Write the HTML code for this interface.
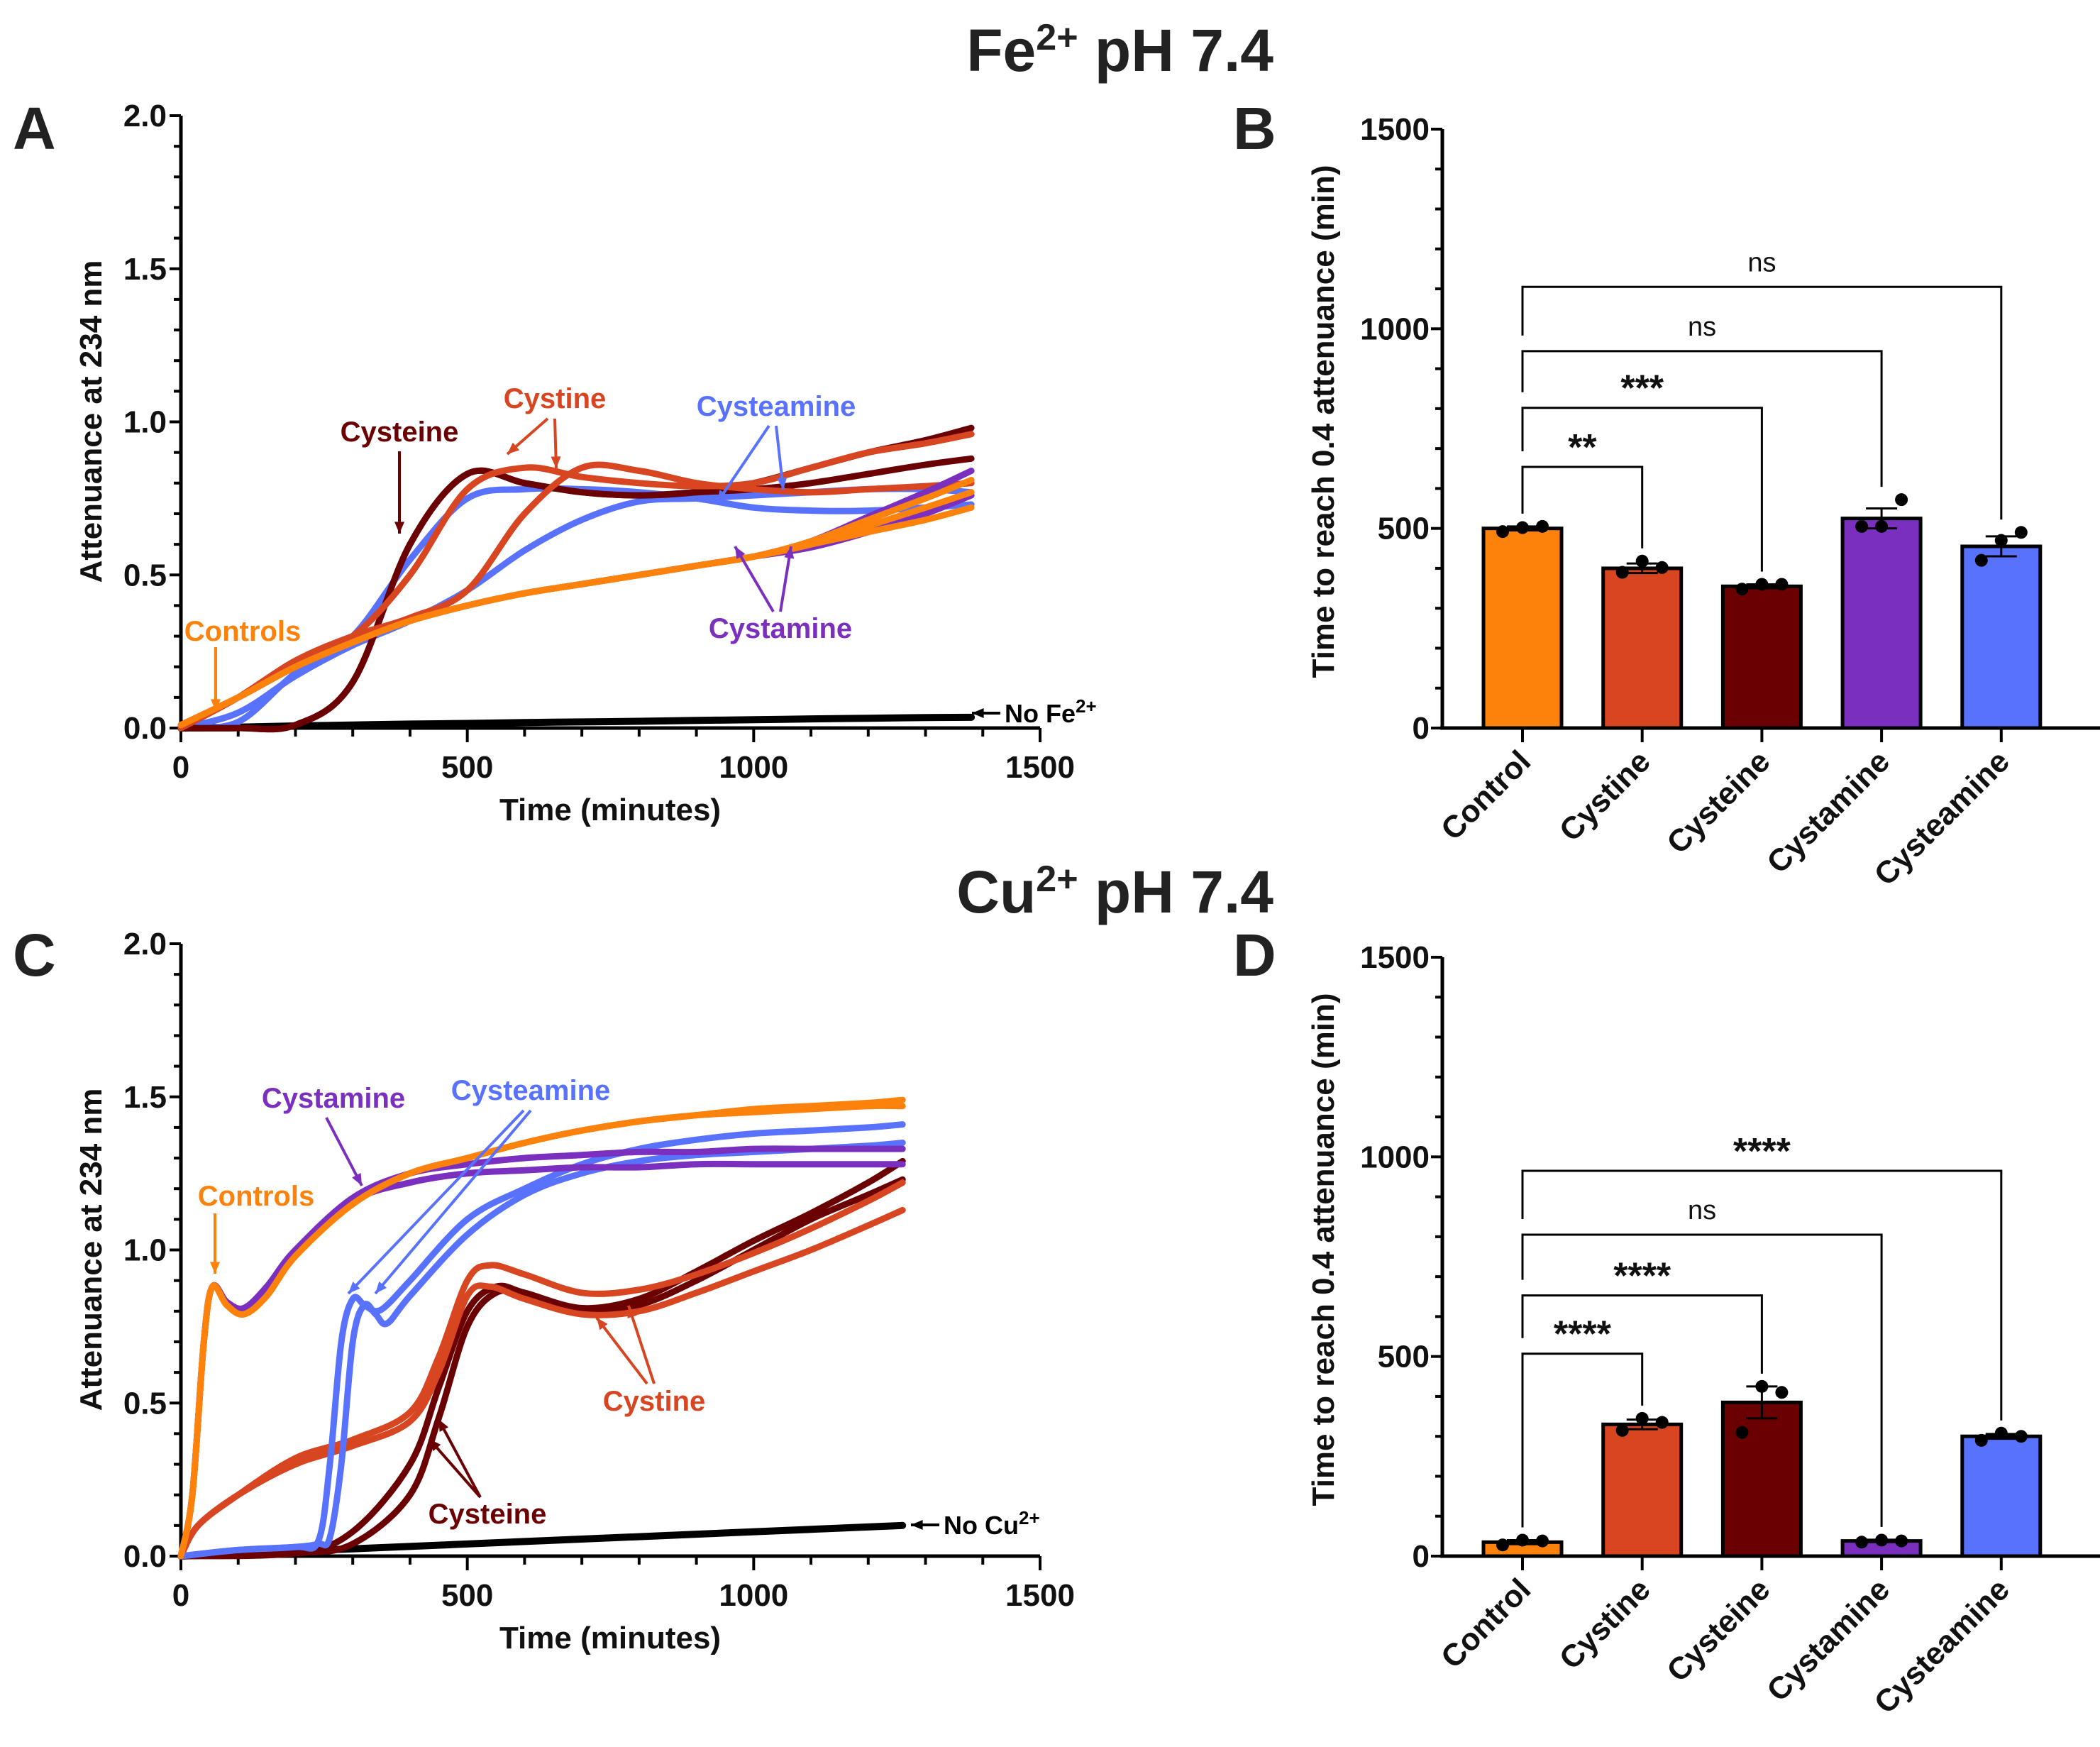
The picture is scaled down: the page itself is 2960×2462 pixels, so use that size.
<!DOCTYPE html>
<html><head><meta charset="utf-8">
<style>
html,body{margin:0;padding:0;background:#fff;}
svg{display:block;}
text{font-family:"Liberation Sans Narrow","Liberation Sans",sans-serif;font-weight:bold;}
.w{font-family:"Liberation Sans",sans-serif;font-weight:bold;}
</style></head>
<body>
<svg id="fig" width="2960" height="2462" viewBox="0 0 2960 2462" xmlns="http://www.w3.org/2000/svg">
<g id="gA"></g>
<g id="gB"></g>
<g id="gC"></g>
<g id="gD"></g>
</svg>
<script>
// ---------- Panel A data (Fe2+) ----------
const tA = [0,100,200,300,400,500,600,700,800,900,1000,1100,1200,1300,1380];
const aControl1 = [0.01,0.1,0.2,0.28,0.35,0.4,0.44,0.47,0.5,0.53,0.56,0.6,0.64,0.68,0.72];
const aControl2 = [0.01,0.1,0.2,0.28,0.35,0.4,0.44,0.47,0.5,0.53,0.56,0.61,0.68,0.75,0.81];
const aControl3 = [0.01,0.1,0.2,0.28,0.35,0.4,0.44,0.47,0.5,0.53,0.56,0.6,0.66,0.72,0.77];
const aCystine1 = [0,0.1,0.22,0.3,0.5,0.78,0.85,0.82,0.8,0.79,0.8,0.85,0.9,0.93,0.96];
const aCystine2 = [0,0.1,0.22,0.3,0.36,0.45,0.7,0.85,0.84,0.8,0.78,0.77,0.78,0.79,0.8];
const aCysteine1 = [0,0,0.01,0.15,0.6,0.83,0.8,0.77,0.76,0.77,0.8,0.85,0.9,0.94,0.98];
const aCysteine2 = [0,0,0.01,0.15,0.6,0.83,0.8,0.77,0.76,0.77,0.78,0.8,0.83,0.86,0.88];
const aCysteamine1 = [0,0.02,0.18,0.3,0.55,0.75,0.78,0.78,0.77,0.75,0.72,0.71,0.71,0.72,0.73];
const aCysteamine2 = [0,0.05,0.17,0.27,0.35,0.45,0.58,0.68,0.74,0.75,0.76,0.77,0.78,0.78,0.77];
const aCystamine1 = [0.01,0.1,0.2,0.28,0.35,0.4,0.44,0.47,0.5,0.53,0.56,0.61,0.69,0.77,0.84];
const aCystamine2 = [0.01,0.1,0.2,0.28,0.35,0.4,0.44,0.47,0.5,0.53,0.56,0.59,0.64,0.7,0.76];
const aNoMetal = [0,0.003,0.007,0.01,0.013,0.015,0.018,0.02,0.022,0.025,0.027,0.03,0.032,0.034,0.035];

// ---------- Panel C data (Cu2+) ----------
const tCctl = [0,20,40,55,80,110,150,200,300,400,500,600,700,800,900,1000,1100,1200,1260];
const cControl1 = [0,0.2,0.7,0.88,0.82,0.79,0.85,0.98,1.15,1.25,1.3,1.35,1.39,1.42,1.44,1.46,1.47,1.48,1.49];
const cControl2 = [0,0.2,0.7,0.88,0.82,0.79,0.85,0.98,1.15,1.25,1.3,1.35,1.39,1.42,1.44,1.45,1.46,1.47,1.47];
const cCystamine1 = [0,0.2,0.7,0.88,0.83,0.81,0.88,1.0,1.17,1.25,1.28,1.3,1.31,1.32,1.32,1.33,1.33,1.33,1.33];
const cCystamine2 = [0,0.2,0.7,0.88,0.83,0.81,0.88,1.0,1.16,1.22,1.25,1.26,1.27,1.27,1.28,1.28,1.28,1.28,1.28];
const tCam = [0,100,200,240,260,280,300,320,340,360,400,500,600,700,800,900,1000,1100,1200,1260];
const cCysteamine1 = [0,0.02,0.03,0.05,0.3,0.7,0.84,0.82,0.8,0.82,0.9,1.1,1.2,1.28,1.33,1.36,1.38,1.39,1.4,1.41];
const cCysteamine2 = [0,0.02,0.03,0.04,0.06,0.3,0.7,0.82,0.79,0.76,0.85,1.05,1.18,1.25,1.29,1.31,1.32,1.33,1.34,1.35];
const tCine = [0,30,100,200,300,400,450,500,540,600,700,800,900,1000,1100,1200,1260];
const cCystine1 = [0,0.1,0.2,0.32,0.38,0.47,0.65,0.9,0.95,0.92,0.86,0.87,0.92,0.99,1.07,1.16,1.22];
const cCystine2 = [0,0.1,0.2,0.3,0.36,0.44,0.6,0.85,0.88,0.84,0.79,0.8,0.86,0.93,1.0,1.08,1.13];
const tCein = [0,200,300,400,450,500,550,600,700,800,900,1000,1100,1200,1260];
const cCysteine1 = [0,0.01,0.08,0.3,0.55,0.8,0.88,0.86,0.81,0.84,0.93,1.03,1.12,1.22,1.29];
const cCysteine2 = [0,0.01,0.04,0.2,0.45,0.75,0.86,0.85,0.8,0.82,0.9,1.0,1.1,1.18,1.23];
const tNo = [0,1260];
const cNoMetal = [0,0.1];

// ---------- Bar data ----------
const categories = ["Control","Cystine","Cysteine","Cystamine","Cysteamine"];
const barColors = ["#fd820c","#d74521","#6b0003","#7b2fbf","#5872fd"];
const bMeans = [500,400,355,525,455];
const bErr = [5,12,5,25,25];
const bPoints = [[492,502,505],[390,418,402],[348,360,360],[505,505,572],[420,470,490]];
const bSigLabels = ["**","***","ns","ns"];
const bSigLevels = [654,802,944,1105];
const dMeans = [35,330,385,38,300];
const dErr = [5,12,40,3,6];
const dPoints = [[28,40,38],[315,345,335],[310,425,410],[35,40,38],[290,308,300]];
const dSigLabels = ["****","****","ns","****"];
const dSigLevels = [507,653,805,965];
const lineTicks = [0,0.5,1.0,1.5,2.0];
const lineTickLabels = ["0.0","0.5","1.0","1.5","2.0"];
const timeTicks = [0,500,1000,1500];
const barTicks = [0,500,1000,1500];

const NS = "http://www.w3.org/2000/svg";
function mk(parent, tag, attrs, txt){
  const e = document.createElementNS(NS, tag);
  for (const k in attrs) e.setAttribute(k, attrs[k]);
  if (txt !== undefined) e.textContent = txt;
  parent.appendChild(e);
  return e;
}
function smoothPath(pts){
  let d = "M"+pts[0][0].toFixed(1)+","+pts[0][1].toFixed(1);
  for (let i=0;i<pts.length-1;i++){
    const p0=pts[Math.max(0,i-1)],p1=pts[i],p2=pts[i+1],p3=pts[Math.min(pts.length-1,i+2)];
    const c1=[p1[0]+(p2[0]-p0[0])/6,p1[1]+(p2[1]-p0[1])/6];
    const c2=[p2[0]-(p3[0]-p1[0])/6,p2[1]-(p3[1]-p1[1])/6];
    d+=" C"+c1[0].toFixed(1)+","+c1[1].toFixed(1)+" "+c2[0].toFixed(1)+","+c2[1].toFixed(1)+" "+p2[0].toFixed(1)+","+p2[1].toFixed(1);
  }
  return d;
}
function arrow(g, x1,y1,x2,y2,color){
  const l = mk(g,"line",{x1:x1,y1:y1,x2:x2,y2:y2,stroke:color,"stroke-width":4});
  
  
  const a=Math.atan2(y2-y1,x2-x1), s=18;
  const p = mk(g,"polygon",{points:[x2,y2, x2-s*Math.cos(a-0.4),y2-s*Math.sin(a-0.4), x2-s*Math.cos(a+0.4),y2-s*Math.sin(a+0.4)].join(","),fill:color});
  
  
}
function label(g,x,y,txt,color,size,anchor,name){
  const t = mk(g,"text",{x:x,y:y,fill:color,"font-size":size||40,"text-anchor":anchor||"middle"},txt);
  
  
  return t;
}

function linePanel(g, y0, letter, letterY){
  const X0=255, X1=1466;
  const sx = t => X0 + t/1500*(X1-X0);
  const sy = v => y0 - v/2.0*863;
  const ax = mk(g,"line",{x1:X0,y1:y0-863,x2:X0,y2:y0+3,stroke:"#000","stroke-width":5});
   
  const ax2 = mk(g,"line",{x1:X0-3,y1:y0,x2:X1,y2:y0,stroke:"#000","stroke-width":5});
   
  for (let v=0; v<=2.0001; v+=0.1){
    const major = Math.abs(v*2-Math.round(v*2))<1e-6;
    const tk = mk(g,"line",{x1:X0-(major?16:10),y1:sy(v),x2:X0,y2:sy(v),stroke:"#000","stroke-width":4});
     
  }
  lineTicks.forEach((v,i)=>{
    const t = mk(g,"text",{x:X0-20,y:sy(v)+15,"font-size":44,"text-anchor":"end",fill:"#111"},lineTickLabels[i]);
     
  });
  for (let t=0; t<=1500; t+=100){
    const major = t%500===0;
    const tk = mk(g,"line",{x1:sx(t),y1:y0,x2:sx(t),y2:y0+(major?20:12),stroke:"#000","stroke-width":4});
     
  }
  timeTicks.forEach(t=>{
    const e = mk(g,"text",{x:sx(t),y:y0+70,"font-size":44,"text-anchor":"middle",fill:"#111"},String(t));
     
  });
  const xt = mk(g,"text",{x:860,y:y0+130,"font-size":44,"text-anchor":"middle",fill:"#111"},"Time (minutes)");
   
  const yt = mk(g,"text",{x:0,y:0,"font-size":44,"text-anchor":"middle",fill:"#111",class:"w",transform:"translate(143,"+(y0-432)+") rotate(-90)"},"Attenuance at 234 nm");
   
  const lt = mk(g,"text",{x:18,y:letterY,"font-size":84,fill:"#222",class:"w"},letter);
   
  return {sx,sy};
}
function series(g, s, times, vals, color, name, w){
  const pts = times.map((t,i)=>[s.sx(t), s.sy(vals[i])]);
  const p = mk(g,"path",{d:smoothPath(pts),fill:"none",stroke:color,"stroke-width":w||9,"stroke-linecap":"round"});
  
  
}

// ---------- Panel A ----------
const gA = document.getElementById("gA");
const sA = linePanel(gA, 1026, "A", 210);
series(gA,sA,tA,aNoMetal,"#000","no-fe-line",10);
series(gA,sA,tA,aCysteamine2,"#5872fd","cysteamine-line-2");
series(gA,sA,tA,aCysteamine1,"#5872fd","cysteamine-line-1");
series(gA,sA,tA,aCysteine2,"#6b0003","cysteine-line-2");
series(gA,sA,tA,aCysteine1,"#6b0003","cysteine-line-1");
series(gA,sA,tA,aCystine2,"#d74521","cystine-line-2");
series(gA,sA,tA,aCystine1,"#d74521","cystine-line-1");
series(gA,sA,tA,aCystamine1,"#7b2fbf","cystamine-line-1");
series(gA,sA,tA,aCystamine2,"#7b2fbf","cystamine-line-2");
series(gA,sA,tA,aControl2,"#fd820c","control-line-2");
series(gA,sA,tA,aControl3,"#fd820c","control-line-3");
series(gA,sA,tA,aControl1,"#fd820c","control-line-1");
label(gA,563,622,"Cysteine","#6b0003",40); arrow(gA,563,636,563,752,"#6b0003");
label(gA,782,575,"Cystine","#d74521",40); arrow(gA,772,590,715,640,"#d74521"); arrow(gA,782,590,784,660,"#d74521");
label(gA,1094,586,"Cysteamine","#5872fd",40); arrow(gA,1084,600,1011,708,"#5872fd"); arrow(gA,1094,600,1104,690,"#5872fd");
label(gA,1100,899,"Cystamine","#7b2fbf",40); arrow(gA,1090,862,1036,770,"#7b2fbf"); arrow(gA,1100,862,1115,770,"#7b2fbf");
label(gA,342,903,"Controls","#fd820c",40); arrow(gA,304,912,304,1002,"#fd820c");
arrow(gA,1410,1005,1370,1005,"#000");
const nf = label(gA,1416,1018,"No Fe","#000",36,"start","no-fe-label");
mk(nf,"tspan",{dy:-14,"font-size":26},"2+");

// ---------- Panel C ----------
const gC = document.getElementById("gC");
const sC = linePanel(gC, 2193, "C", 1375);
series(gC,sC,tNo,cNoMetal,"#000","no-cu-line",10);
series(gC,sC,tCein,cCysteine1,"#6b0003","cysteine-line-1");
series(gC,sC,tCein,cCysteine2,"#6b0003","cysteine-line-2");
series(gC,sC,tCine,cCystine1,"#d74521","cystine-line-1");
series(gC,sC,tCine,cCystine2,"#d74521","cystine-line-2");
series(gC,sC,tCam,cCysteamine1,"#5872fd","cysteamine-line-1");
series(gC,sC,tCam,cCysteamine2,"#5872fd","cysteamine-line-2");
series(gC,sC,tCctl,cCystamine1,"#7b2fbf","cystamine-line-1");
series(gC,sC,tCctl,cCystamine2,"#7b2fbf","cystamine-line-2");
series(gC,sC,tCctl,cControl1,"#fd820c","control-line-1");
series(gC,sC,tCctl,cControl2,"#fd820c","control-line-2");
label(gC,470,1561,"Cystamine","#7b2fbf",40); arrow(gC,460,1575,510,1671,"#7b2fbf");
label(gC,748,1550,"Cysteamine","#5872fd",40); arrow(gC,738,1565,491,1823,"#5872fd"); arrow(gC,748,1565,529,1823,"#5872fd");
label(gC,361,1699,"Controls","#fd820c",40); arrow(gC,303,1710,303,1795,"#fd820c");
label(gC,922,1988,"Cystine","#d74521",40); arrow(gC,912,1950,841,1857,"#d74521"); arrow(gC,922,1950,886,1840,"#d74521");
label(gC,687,2147,"Cysteine","#6b0003",40); arrow(gC,677,2110,605,2028,"#6b0003"); arrow(gC,677,2110,618,2000,"#6b0003");
arrow(gC,1324,2149,1284,2149,"#000");
const nc = label(gC,1330,2162,"No Cu","#000",36,"start","no-cu-label");
mk(nc,"tspan",{dy:-14,"font-size":26},"2+");

// ---------- Titles ----------
const fig = document.getElementById("fig");
const t1 = mk(fig,"text",{x:1795,y:100,"font-size":84,"text-anchor":"end",fill:"#222",class:"w"},"Fe");
mk(t1,"tspan",{dy:-30,"font-size":52},"2+"); mk(t1,"tspan",{dy:30}," pH 7.4");
 
const t2 = mk(fig,"text",{x:1795,y:1286,"font-size":84,"text-anchor":"end",fill:"#222",class:"w"},"Cu");
mk(t2,"tspan",{dy:-30,"font-size":52},"2+"); mk(t2,"tspan",{dy:30}," pH 7.4");
 

// ---------- Bar panels ----------
function barPanel(g, y0, letter, letterY, means, errs, pts, sigLabels, sigLevels){
  const X0=2033, X1=2960;
  const H=844;
  const sy = v => y0 - v/1500*H;
  const cx = i => 2146 + i*168.7;
  const bw = 110;
  const ax = mk(g,"line",{x1:X0,y1:y0-H,x2:X0,y2:y0,stroke:"#000","stroke-width":5});
   
  const ax2 = mk(g,"line",{x1:X0-3,y1:y0,x2:X1,y2:y0,stroke:"#000","stroke-width":5});
   
  for (let v=0; v<=1500; v+=100){
    const tk = mk(g,"line",{x1:X0-(v%500===0?16:10),y1:sy(v),x2:X0,y2:sy(v),stroke:"#000","stroke-width":4});
     
  }
  barTicks.forEach(v=>{
    const t = mk(g,"text",{x:X0-18,y:sy(v)+15,"font-size":44,"text-anchor":"end",fill:"#111"},String(v));
     
  });
  const yt = mk(g,"text",{x:0,y:0,"font-size":44,"text-anchor":"middle",fill:"#111",class:"w",transform:"translate(1880,"+(y0-432)+") rotate(-90)"},"Time to reach 0.4 attenuance (min)");
   
  const lt = mk(g,"text",{x:1738,y:letterY,"font-size":84,fill:"#222",class:"w"},letter);
   
  categories.forEach((c,i)=>{
    const r = mk(g,"rect",{x:cx(i)-bw/2,y:sy(means[i]),width:bw,height:y0-sy(means[i]),fill:barColors[i],stroke:"#000","stroke-width":5});
    
    
    const tk = mk(g,"line",{x1:cx(i),y1:y0,x2:cx(i),y2:y0+20,stroke:"#000","stroke-width":4});
     
    const e1 = mk(g,"path",{d:"M"+cx(i)+","+sy(means[i]-errs[i])+"V"+sy(means[i]+errs[i])+"M"+(cx(i)-22)+","+sy(means[i]+errs[i])+"h44M"+(cx(i)-22)+","+sy(means[i]-errs[i])+"h44",stroke:"#000","stroke-width":3,fill:"none"});
     
    pts[i].forEach((v,j)=>{
      const d = mk(g,"circle",{cx:cx(i)+(j-1)*28,cy:sy(v),r:9,fill:"#000"});
       
    });
    const lb = mk(g,"text",{x:0,y:0,"font-size":44,"text-anchor":"end",fill:"#111",class:"w",transform:"translate("+(cx(i)+14)+","+(y0+50)+") rotate(-45)"},c);
     
  });
  sigLevels.forEach((lv,k)=>{
    const j = k+1;
    const yb = sy(lv);
    const leftEnd = k===0 ? sy(means[0]+errs[0])-18 : sy(sigLevels[k-1])-22;
    const rightEnd = sy(Math.max(means[j]+errs[j], ...pts[j]))-18;
    const p = mk(g,"path",{d:"M"+cx(0)+","+leftEnd+"V"+yb+"H"+cx(j)+"V"+rightEnd,stroke:"#000","stroke-width":3,fill:"none"});
     
    const isNs = sigLabels[k]==="ns";
    const t = mk(g,"text",{x:(cx(0)+cx(j))/2,y:yb-(isNs?22:10),"font-size":isNs?38:52,"text-anchor":"middle",fill:"#111",style:isNs?"font-weight:normal":""},sigLabels[k]);
     
  });
}
barPanel(document.getElementById("gB"),1026,"B",210,bMeans,bErr,bPoints,bSigLabels,bSigLevels);
barPanel(document.getElementById("gD"),2193,"D",1375,dMeans,dErr,dPoints,dSigLabels,dSigLevels);
</script>
</body></html>
